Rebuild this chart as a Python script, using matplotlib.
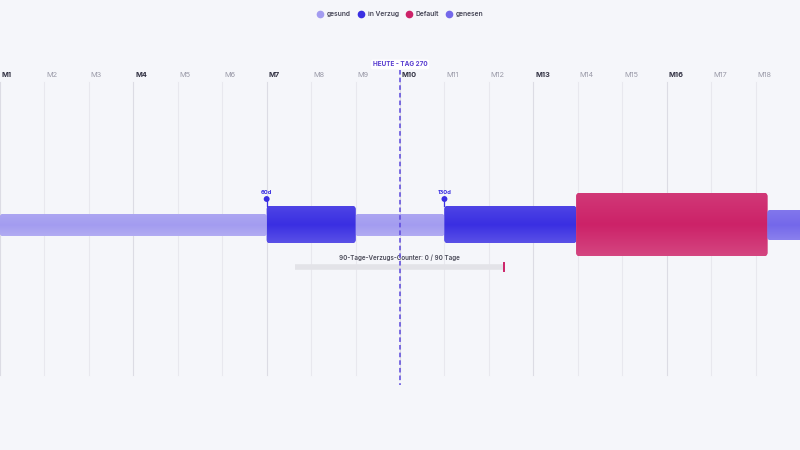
import numpy as np
import matplotlib
matplotlib.use("Agg")
import matplotlib.pyplot as plt
from matplotlib.patches import FancyBboxPatch
from matplotlib.lines import Line2D

plt.rcParams['font.family'] = ['Inter', 'DejaVu Sans']

# data (days)
months = ["M" + str(i) for i in range(1, 19)]
month_days = [i * 30 for i in range(18)]
major_months = ["M1", "M4", "M7", "M10", "M13", "M16"]

seg_start = [0, 180, 240, 300, 389, 518]
seg_end = [180, 240, 300, 389, 518, 545]
seg_state = ["gesund", "in Verzug", "gesund", "in Verzug", "Default", "genesen"]

marker_days = [180, 300]
marker_labels = ["60d", "130d"]

today = 270
counter_start = 199
counter_end = 340
counter_text = "90-Tage-Verzugs-Counter: 0 / 90 Tage"

states = ["gesund", "in Verzug", "Default", "genesen"]
colors = {"gesund": "#a39cf0", "in Verzug": "#3a2fe2", "Default": "#cc2268", "genesen": "#7468ea"}
heights = {"gesund": (214, 236), "in Verzug": (206, 243), "Default": (193, 256), "genesen": (210, 240)}

bg = "#f5f6fa"
fig = plt.figure(figsize=(8, 4.5), dpi=100, facecolor=bg)
ax = fig.add_axes([0, 0, 1, 1])
ax.set_facecolor(bg)
ax.set_xlim(0, 540)
ax.set_ylim(450, 0)
ax.axis("off")

# grid + month labels
for m, d in zip(months, month_days):
    major = m in major_months
    ax.plot([d, d], [82, 375], color="#dcdce4" if major else "#e8e8ee", lw=0.8, zorder=1)
    ax.text(d + 1.2, 75, m, fontsize=5.3, fontweight="bold" if major else "normal",
            color="#333344" if major else "#9a9aa8", va="center", ha="left", zorder=2)


def shade(c, f):
    c = np.array(matplotlib.colors.to_rgb(c))
    return c + (1 - c) * f


# segments
for s, e, st in zip(seg_start, seg_end, seg_state):
    y0, y1 = heights[st]
    col = colors[st]
    patch = FancyBboxPatch((s, y0), e - s, y1 - y0,
                           boxstyle="round,pad=0,rounding_size=2.2",
                           mutation_aspect=1.483,
                           facecolor=col, edgecolor="none", zorder=3)
    ax.add_patch(patch)
    # vertical gradient, lighter at top/bottom edges
    t = np.linspace(0, 1, 64)
    prof = np.where(t < 0.5, 0.10 * (1 - t / 0.5), 0.16 * ((t - 0.5) / 0.5))
    img = np.array([[shade(col, p)] for p in prof])
    im = ax.imshow(img, extent=[s, e, y1, y0], aspect="auto", zorder=3.5,
                   interpolation="bilinear")
    im.set_clip_path(patch)

# pins
for d, lab in zip(marker_days, marker_labels):
    ax.plot([d, d], [199, 206], color="#3a2fe2", lw=0.9, zorder=5)
    ax.scatter([d], [199], s=18, color="#3a2fe2", zorder=6, edgecolors="none")
    ax.text(d, 192.5, lab, fontsize=4.2, fontweight="bold", color="#3a2fe2",
            ha="center", va="center", zorder=6)

# counter
ax.text((counter_start + counter_end) / 2, 258, counter_text, fontsize=4.5,
        color="#4a4a58", ha="center", va="center", zorder=6, fontweight="semibold")
ax.plot([counter_start, counter_end], [266.5, 266.5], color="#e3e3e8", lw=4,
        solid_capstyle="butt", zorder=4)
ax.plot([counter_end, counter_end], [262.5, 270.5], color="#cc2268", lw=1.4, zorder=5)

# today line
ax.plot([today, today], [70, 385], color="#5b48dc", lw=1.1, ls=(0, (3, 2)), zorder=7)
ax.text(today, 64.5, "HEUTE - TAG 270", fontsize=4.6, fontweight="bold", color="#5a3fd0",
        ha="center", va="center", zorder=8,
        bbox=dict(boxstyle="round,pad=0.3", fc="white", ec="none"))

# legend
handles = [Line2D([], [], marker="o", ls="none", color=colors[s], markersize=4.5) for s in states]
leg = fig.legend(handles, states, loc="center", bbox_to_anchor=(0.5, 1 - 14 / 450), ncol=4,
                 frameon=False, handletextpad=0.5, handlelength=1.0, columnspacing=1.0,
                 prop={"size": 4.8, "weight": "semibold"}, labelcolor="#444455")

fig.savefig("out.png", dpi=100, facecolor=bg)
